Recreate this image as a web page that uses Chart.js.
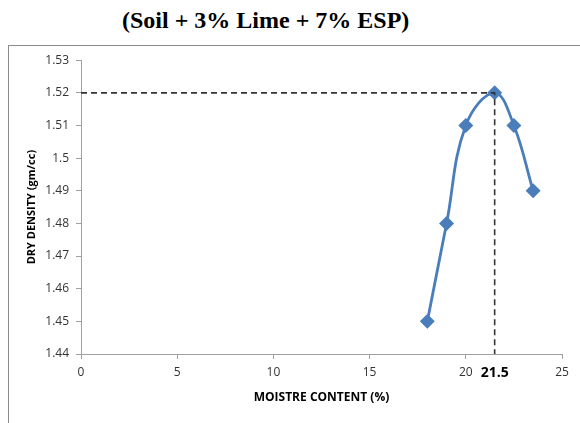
<!DOCTYPE html>
<html lang="en">
<head>
  <meta charset="UTF-8" />
  <title>Dry density vs moisture content</title>
  <script src="https://cdn.jsdelivr.net/npm/chart.js"></script>
  <style>
    body {
      margin: 0;
      padding: 0;
      background: #ffffff;
      width: 580px;
      height: 423px;
      overflow: hidden;
      position: relative;
    }
    #title {
      position: absolute;
      left: 122px;
      top: 7px;
      font-family: "Liberation Serif", "Times New Roman", serif;
      font-weight: bold;
      font-size: 24px;
      white-space: nowrap;
      color: #000;
    }
    #frame {
      position: absolute;
      left: 8px;
      top: 45px;
      width: 580px;
      height: 400px;
      border: 1px solid #8c8c8c;
    }
    #chartBox {
      position: absolute;
      left: 9px;
      top: 46px;
      width: 571px;
      height: 377px;
    }
  </style>
</head>
<body>
  <div id="title">(Soil + 3% Lime + 7% ESP)</div>
  <div id="frame"></div>
  <div id="chartBox">
    <canvas id="mddChart"></canvas>
  </div>

  <script>
    // data
    const moisture = [18, 19, 20, 21.5, 22.5, 23.5];
    const dryDensity = [1.45, 1.48, 1.51, 1.52, 1.51, 1.49];

    // optimum point (dashed guide)
    const omc = 21.5;
    const mdd = 1.52;

    const xTicks = [0, 5, 10, 15, 20, omc, 25];
    const xTickLabels = ["0", "5", "10", "15", "20", "21.5", "25"];
    const yTicks = [1.44, 1.45, 1.46, 1.47, 1.48, 1.49, 1.5, 1.51, 1.52, 1.53];
    const yTickLabels = ["1.44", "1.45", "1.46", "1.47", "1.48", "1.49", "1.5", "1.51", "1.52", "1.53"];

    const tickFont = { family: "'Open Sans', 'Liberation Sans', sans-serif", size: 12 };

    new Chart(document.getElementById("mddChart"), {
      type: "scatter",
      data: {
        datasets: [
          {
            // dashed guide to the peak
            data: [{ x: 0, y: mdd }, { x: omc, y: mdd }, { x: omc, y: 1.44 }],
            showLine: true,
            borderColor: "#333",
            borderWidth: 1.6,
            borderDash: [6, 4],
            pointRadius: 0,
            tension: 0
          },
          {
            data: moisture.map((m, i) => ({ x: m, y: dryDensity[i] })),
            showLine: true,
            borderColor: "#4a7ebb",
            backgroundColor: "#4a7ebb",
            borderWidth: 2.8,
            pointStyle: "rectRot",
            pointRadius: 5.5,
            pointHoverRadius: 5.5,
            tension: 0.4
          }
        ]
      },
      options: {
        responsive: true,
        maintainAspectRatio: false,
        animation: false,
        layout: { padding: { left: 0, right: 18, top: 14, bottom: 0 } },
        plugins: {
          legend: { display: false },
          tooltip: { enabled: false }
        },
        scales: {
          x: {
            type: "linear",
            min: 0,
            max: 25,
            afterFit: s => { s.height = 69; },
            afterBuildTicks: s => { s.ticks = xTicks.map(v => ({ value: v })); },
            border: { display: true, color: "#a0a0a0" },
            grid: {
              drawOnChartArea: false,
              drawTicks: true,
              tickLength: 5,
              color: "#a0a0a0",
              tickColor: c => (c.tick && c.tick.value === omc ? "rgba(0,0,0,0)" : "#a0a0a0")
            },
            ticks: {
              padding: 6,
              color: c => (c.tick && c.tick.value === omc ? "#000" : "#333"),
              font: c => (c.tick && c.tick.value === omc
                ? { family: tickFont.family, size: 14, weight: "bold" }
                : tickFont),
              callback: (v, i) => xTickLabels[i]
            },
            title: {
              display: true,
              text: "MOISTRE CONTENT (%)",
              color: "#000",
              font: { family: tickFont.family, size: 12, weight: "bold" },
              padding: { top: 0, bottom: 18 }
            }
          },
          y: {
            min: 1.44,
            max: 1.53,
            afterFit: s => { s.width = 72; },
            afterBuildTicks: s => { s.ticks = yTicks.map(v => ({ value: v })); },
            border: { display: true, color: "#a0a0a0" },
            grid: {
              drawOnChartArea: false,
              drawTicks: true,
              tickLength: 5,
              color: "#a0a0a0"
            },
            ticks: {
              padding: 7,
              color: "#333",
              font: tickFont,
              callback: (v, i) => yTickLabels[i]
            },
            title: {
              display: true,
              text: "DRY DENSITY (gm/cc)",
              color: "#000",
              font: { family: tickFont.family, size: 11, weight: "bold" },
              padding: { top: 16, bottom: 0 }
            }
          }
        }
      }
    });
  </script>
</body>
</html>
